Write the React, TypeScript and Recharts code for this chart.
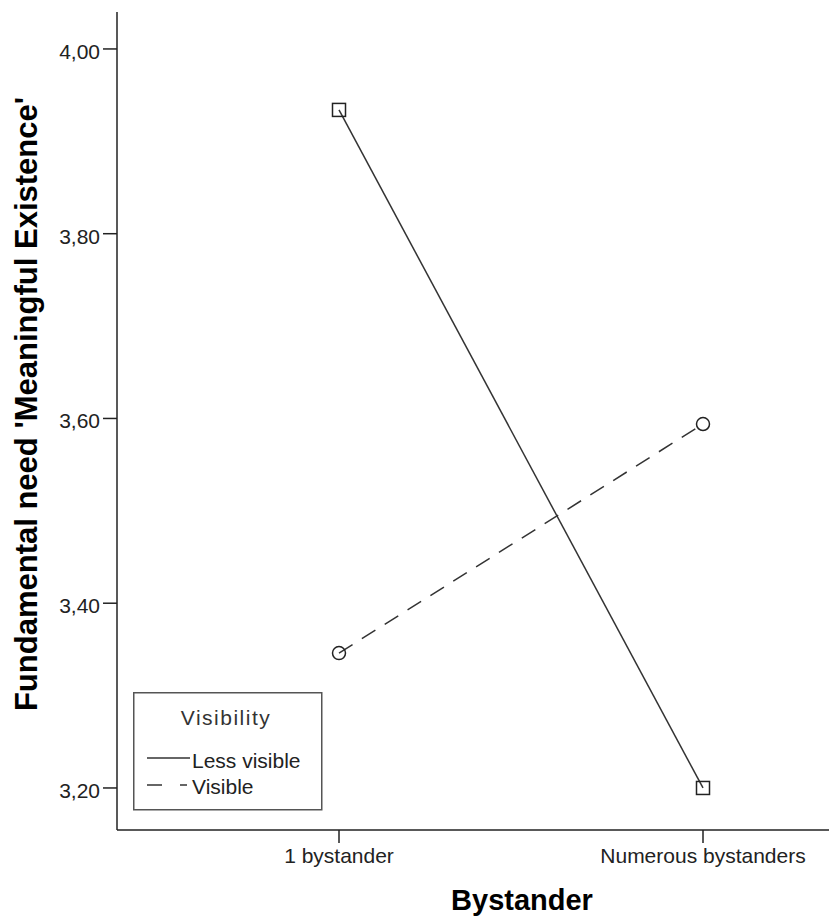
import { LineChart, Line, XAxis, YAxis } from 'recharts'

const categories = ['1 bystander', 'Numerous bystanders']
const lessVisible = [3.934, 3.2]
const visible = [3.346, 3.594]
const yTicks = [3.2, 3.4, 3.6, 3.8, 4.0]
const seriesNames = ['Less visible', 'Visible']

const data = categories.map((name, i) => ({
  name,
  less: lessVisible[i],
  vis: visible[i]
}))

const FONT = "'Liberation Sans', Arial, sans-serif"
const INK = '#222'

const fmt = (v: number) => v.toFixed(2).replace('.', ',')

const YTick = (props: any) => {
  const { x, y, payload } = props
  return (
    <text x={x} y={y + 10} textAnchor="end" fontSize={21} fontFamily={FONT} fill={INK}>
      {fmt(payload.value)}
    </text>
  )
}

const XTick = (props: any) => {
  const { x, y, payload } = props
  return (
    <text x={x} y={y + 15} textAnchor="middle" fontSize={21} fontFamily={FONT} fill={INK}>
      {payload.value}
    </text>
  )
}

const Square = (props: any) => {
  const { cx, cy, index } = props
  return <rect key={`sq-${index}`} x={cx - 6.5} y={cy - 6.5} width={13} height={13} fill="none" stroke={INK} strokeWidth={1.5} />
}

const Ring = (props: any) => {
  const { cx, cy, index } = props
  return <circle key={`ci-${index}`} cx={cx} cy={cy} r={6.5} fill="none" stroke={INK} strokeWidth={1.5} />
}

// legend drawn as an overlay inside the plot, like the SPSS box
const LegendBox = () => (
  <svg width={190} height={120} style={{ display: 'block' }}>
    <rect x={0.75} y={0.75} width={188} height={117} fill="#fff" stroke="#555" strokeWidth={1.5} />
    <text x={93} y={33} textAnchor="middle" fontSize={21} letterSpacing={1.5} fontFamily={FONT} fill="#333">
      Visibility
    </text>
    <line x1={14} x2={57} y1={66} y2={66} stroke="#333" strokeWidth={1.5} />
    <text x={59} y={76} fontSize={21} fontFamily={FONT} fill={INK}>
      {seriesNames[0]}
    </text>
    <line x1={14} x2={29} y1={93} y2={93} stroke="#333" strokeWidth={1.5} />
    <line x1={47} x2={54} y1={93} y2={93} stroke="#333" strokeWidth={1.5} />
    <text x={59} y={102} fontSize={21} fontFamily={FONT} fill={INK}>
      {seriesNames[1]}
    </text>
  </svg>
)

const YLabel = () => (
  <text
    x={29}
    y={396}
    transform="rotate(-90, 29, 396)"
    textAnchor="middle"
    fontSize={31}
    fontWeight="bold"
    fontFamily={FONT}
    fill="#000"
  >
    Fundamental need 'Meaningful Existence'
  </text>
)

const XLabel = (props: any) => {
  const vb = props.viewBox
  return (
    <text
      x={vb.x + vb.width / 2 + 45}
      y={vb.y + 80}
      textAnchor="middle"
      fontSize={29}
      fontWeight="bold"
      fontFamily={FONT}
      fill="#000"
    >
      Bystander
    </text>
  )
}

export default function App() {
  return (
    <div style={{ position: 'relative', width: 829, height: 910, overflow: 'hidden' }}>
      <LineChart width={829} height={910} data={data} margin={{ top: 4, right: 0, bottom: 0, left: 0 }}>
        <XAxis
          dataKey="name"
          height={88}
          padding={{ left: 222, right: 134 }}
          tickSize={13}
          tickMargin={5}
          stroke={INK}
          strokeWidth={1.5}
          tick={<XTick />}
          label={<XLabel />}
        />
        <YAxis
          type="number"
          width={109}
          domain={[3.1545, 4.04]}
          ticks={yTicks}
          tickSize={14}
          tickMargin={3}
          stroke={INK}
          strokeWidth={1.5}
          tick={<YTick />}
          label={<YLabel />}
        />
        <Line
          dataKey="less"
          name={seriesNames[0]}
          stroke="#333"
          strokeWidth={1.5}
          dot={Square}
          activeDot={false}
          isAnimationActive={false}
        />
        <Line
          dataKey="vis"
          name={seriesNames[1]}
          stroke="#333"
          strokeWidth={1.5}
          strokeDasharray="16 11"
          dot={Ring}
          activeDot={false}
          isAnimationActive={false}
        />
      </LineChart>
      <div style={{ position: 'absolute', left: 125, top: 684 }}>
        <LegendBox />
      </div>
    </div>
  )
}
